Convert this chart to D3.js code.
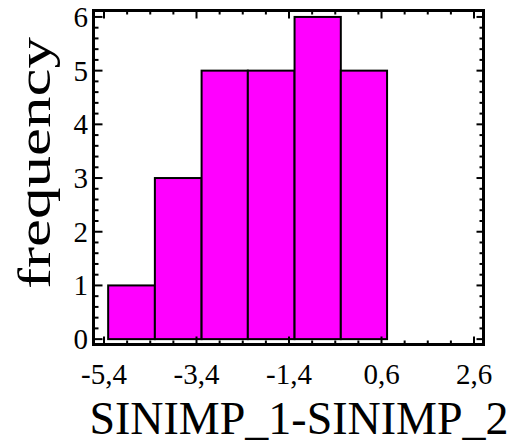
<!DOCTYPE html>
<html>
<head>
<meta charset="utf-8">
<script src="https://cdn.jsdelivr.net/npm/d3@7"></script>
<style>
  html, body { margin: 0; padding: 0; background: #fff; }
</style>
</head>
<body>
<div id="chart"></div>
<script>
// Histogram data
const binEdges = [-5.31, -4.3, -3.29, -2.29, -1.28, -0.28, 0.72];
const counts = [1, 3, 5, 5, 6, 5];
const xTickValues = [-5.4, -3.4, -1.4, 0.6, 2.6];
const yTickValues = [0, 1, 2, 3, 4, 5, 6];

const width = 522;
const height = 445;
const frame = { left: 93.5, right: 483.5, top: 10.5, bottom: 344.5 };
const serif = "'Liberation Serif', 'Times New Roman', serif";

function drawChart() {
    const svg = d3.select('#chart')
        .append('svg')
        .attr('width', width)
        .attr('height', height);

    const x = d3.scaleLinear().domain([-5.627, 2.805]).range([frame.left, frame.right]);
    const y = d3.scaleLinear().domain([-0.1, 6.12]).range([frame.bottom, frame.top]);

    const bins = counts.map((c, i) => ({ x0: binEdges[i], x1: binEdges[i + 1], count: c }));

    // Bars
    svg.append('g')
        .selectAll('rect')
        .data(bins)
        .join('rect')
        .attr('x', d => x(d.x0))
        .attr('y', d => y(d.count))
        .attr('width', d => x(d.x1) - x(d.x0))
        .attr('height', d => y(0) - y(d.count))
        .attr('fill', '#ff00ff')
        .attr('stroke', '#000')
        .attr('stroke-width', 2);

    // Ticks on all four sides, pointing inward
    const xMinor = d3.range(-5.4, 2.61, 0.5);
    const yMinor = d3.range(0, 6.01, 0.2);
    const isMajorX = v => xTickValues.some(t => Math.abs(t - v) < 1e-6);
    const isMajorY = v => Math.abs(v - Math.round(v)) < 1e-6;

    const ticks = svg.append('g').attr('stroke', '#000').attr('stroke-width', 2);
    ticks.selectAll('.tb').data(xMinor).join('line')
        .attr('x1', d => x(d)).attr('x2', d => x(d))
        .attr('y1', frame.bottom).attr('y2', d => frame.bottom - (isMajorX(d) ? 8 : 4));
    ticks.selectAll('.tt').data(xMinor).join('line')
        .attr('x1', d => x(d)).attr('x2', d => x(d))
        .attr('y1', frame.top).attr('y2', d => frame.top + (isMajorX(d) ? 8 : 4));
    ticks.selectAll('.tl').data(yMinor).join('line')
        .attr('y1', d => y(d)).attr('y2', d => y(d))
        .attr('x1', frame.left).attr('x2', d => frame.left + (isMajorY(d) ? 9 : 5));
    ticks.selectAll('.tr').data(yMinor).join('line')
        .attr('y1', d => y(d)).attr('y2', d => y(d))
        .attr('x1', frame.right).attr('x2', d => frame.right - (isMajorY(d) ? 7 : 4));

    // Frame
    svg.append('rect')
        .attr('x', frame.left)
        .attr('y', frame.top)
        .attr('width', frame.right - frame.left)
        .attr('height', frame.bottom - frame.top)
        .attr('fill', 'none')
        .attr('stroke', '#000')
        .attr('stroke-width', 3);

    const fmt = v => d3.format('.1f')(v).replace('.', ',').replace('−', '-');

    // Tick labels
    svg.append('g')
        .selectAll('text')
        .data(xTickValues)
        .join('text')
        .attr('x', d => x(d))
        .attr('y', 384)
        .attr('text-anchor', 'middle')
        .attr('font-family', serif)
        .attr('font-size', 29)
        .text(fmt);

    svg.append('g')
        .selectAll('text')
        .data(yTickValues)
        .join('text')
        .attr('x', 88)
        .attr('y', d => y(d) + 10)
        .attr('text-anchor', 'end')
        .attr('font-family', serif)
        .attr('font-size', 29)
        .text(d => d);

    // Axis titles
    svg.append('text')
        .attr('x', 299)
        .attr('y', 434)
        .attr('text-anchor', 'middle')
        .attr('font-family', serif)
        .attr('font-size', 46)
        .text('SINIMP_1-SINIMP_2');

    svg.append('text')
        .attr('transform', 'translate(50,163) rotate(-90)')
        .attr('text-anchor', 'middle')
        .attr('font-family', serif)
        .attr('font-size', 46)
        .attr('textLength', 252)
        .attr('lengthAdjust', 'spacingAndGlyphs')
        .text('frequency');
}

drawChart();

// re-lay out the labels once the face is surely resolved
function refreshText() {
    d3.selectAll('#chart text').each(function () {
        const t = this.textContent;
        this.textContent = '';
        this.textContent = t;
    });
}
if (document.fonts && document.fonts.load) {
    document.fonts.load("46px 'Liberation Serif'").then(refreshText);
}
requestAnimationFrame(refreshText);
</script>
</body>
</html>
